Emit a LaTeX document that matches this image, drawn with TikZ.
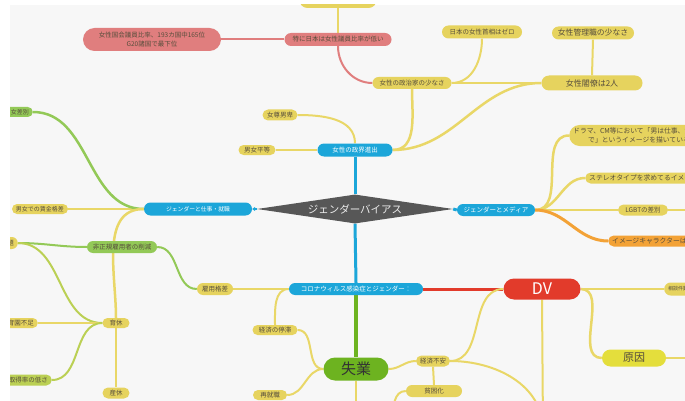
\documentclass[tikz,border=0pt]{standalone}
\usepackage{fontspec}
\setmainfont{Noto Sans CJK JP}
\usetikzlibrary{shapes.geometric, arrows.meta}

\definecolor{canvasbg}{HTML}{F7F7F7}
\definecolor{mustard}{HTML}{E6D35E}
\definecolor{mustardline}{HTML}{E9D767}
\definecolor{salmon}{HTML}{E07E7E}
\definecolor{skyblue}{HTML}{1CA6D9}
\definecolor{leafgreen}{HTML}{93C957}
\definecolor{lime}{HTML}{BBD054}
\definecolor{jobgreen}{HTML}{6DB320}
\definecolor{dvred}{HTML}{E23B2B}
\definecolor{lemon}{HTML}{E4DE3C}
\definecolor{tangerine}{HTML}{F3A236}
\definecolor{slate}{HTML}{575757}
\definecolor{inktext}{HTML}{574E3C}

\pgfdeclarelayer{edges}
\pgfsetlayers{edges,main}

\begin{document}
\begin{tikzpicture}[
    x=1pt, y=-1pt,
    pill/.style={rectangle, rounded corners=5.5pt, inner xsep=4pt, inner ysep=0pt, minimum height=11pt, font=\fontsize{6.5}{8}\selectfont, text=inktext},
    yellownode/.style={pill, fill=mustard},
    rednode/.style={pill, fill=salmon},
    bluenode/.style={pill, fill=skyblue, text=white},
    greennode/.style={pill, fill=leafgreen},
    yline/.style={draw=mustardline, line width=2pt},
    rline/.style={draw=salmon, line width=2pt},
    gline/.style={draw=leafgreen, line width=2.5pt},
    bline/.style={draw=skyblue, line width=3pt}
]

\useasboundingbox (0,0) rectangle (685,401);

\begin{scope}
\clip (10,5) rectangle (685,401);

% ===== Center =====
\node[diamond, aspect=6.7, fill=slate, text=gray!15, inner sep=0pt, minimum width=196pt, minimum height=29pt, font=\fontsize{10.5}{12}\selectfont] (bias) at (355,209) {ジェンダーバイアス};

% ===== Top: politics =====
\node[yellownode, minimum width=77pt, minimum height=16pt, rounded corners=8pt] (topcut) at (338,0) {};
\node[rednode, minimum width=107pt, minimum height=13pt, rounded corners=6.5pt] (lowratio) at (338,39.5) {特に日本は女性議員比率が低い};
\node[rednode, align=center, minimum width=138pt, minimum height=23pt, rounded corners=11.5pt, font=\fontsize{6.5}{9}\selectfont] (diet) at (152,39.5) {女性国会議員比率、193カ国中165位\\G20諸国で最下位};
\node[yellownode, minimum width=79pt, minimum height=12pt, rounded corners=6pt] (politician) at (412,83) {女性の政治家の少なさ};
\node[yellownode, minimum width=80pt, minimum height=13pt, rounded corners=6.5pt] (primemin) at (482,32) {日本の女性首相はゼロ};
\node[yellownode, minimum width=82pt, minimum height=13pt, rounded corners=6.5pt, font=\fontsize{7.8}{9}\selectfont] (manager) at (593,33) {女性管理職の少なさ};
\node[yellownode, minimum width=101pt, minimum height=15pt, rounded corners=7.5pt, font=\fontsize{8}{9}\selectfont] (cabinet) at (592,83) {女性閣僚は2人};
\node[bluenode, minimum width=75pt, minimum height=13pt, rounded corners=6.5pt] (politics) at (355,150) {女性の政界進出};
\node[yellownode, minimum width=35pt] (sonpi) at (280,115) {女尊男卑};
\node[yellownode, minimum width=37pt, minimum height=10pt, rounded corners=5pt] (equal) at (257,150) {男女平等};

% ===== Left: work =====
\node[bluenode, minimum width=108pt, minimum height=13pt, rounded corners=6.5pt, font=\fontsize{5.8}{7}\selectfont] (work) at (198,209) {ジェンダーと仕事・就職};
\node[yellownode, minimum width=56pt, minimum height=10pt, rounded corners=5pt, font=\fontsize{6}{7}\selectfont] (wage) at (40,209) {男女での賃金格差};
\node[greennode, anchor=east, minimum height=10pt, rounded corners=5pt, font=\fontsize{6}{7}\selectfont] (discrim) at (33,112) {男女差別};
\node[greennode, minimum width=70pt, minimum height=12pt, rounded corners=6pt] (irregular) at (122,247) {非正規雇用者の削減};
\node[yellownode, anchor=east, minimum height=12pt, rounded corners=6pt] (jobissue) at (18,243) {雇用問題};
\node[yellownode, minimum width=27pt, minimum height=10pt, rounded corners=5pt] (childleave) at (116,323) {育休};
\node[yellownode, minimum width=27pt, minimum height=11pt] (birthleave) at (116,393) {産休};
\node[yellownode, anchor=east, minimum height=10pt, rounded corners=5pt] (nursery) at (38,323) {保育園不足};
\node[yellownode, anchor=east, minimum height=11pt, fill=lime] (uptake) at (52,380) {育休の取得率の低さ};
\node[yellownode, minimum width=36pt, minimum height=12pt, rounded corners=6pt] (gap) at (215,289) {雇用格差};

% ===== Right: media =====
\node[bluenode, minimum width=78pt, minimum height=12pt, rounded corners=6pt] (media) at (496,210) {ジェンダーとメディア};
\node[yellownode, anchor=west, align=center, minimum height=21pt, rounded corners=10.5pt, font=\fontsize{6.8}{8.5}\selectfont] (drama) at (569,135.5) {ドラマ、CM等において「男は仕事、女は家\\で」というイメージを描いている};
\node[yellownode, anchor=west, minimum height=11pt, font=\fontsize{6.8}{8}\selectfont] (stereo) at (585,178) {ステレオタイプを求めてるイメージ};
\node[yellownode, minimum width=50pt] (lgbt) at (643,210) {LGBTの差別};
\node[pill, fill=tangerine, anchor=west, font=\fontsize{6.8}{8}\selectfont] (mascot) at (608,241) {イメージキャラクターは女性};
\coordinate (lgbt_next) at (700,210);

% ===== Bottom: corona =====
\node[bluenode, minimum width=134pt, minimum height=12pt, rounded corners=6pt] (corona) at (356,289) {コロナウィルス感染症とジェンダー：};
\node[pill, fill=dvred, text=white, minimum width=77pt, minimum height=21pt, rounded corners=10.5pt, font=\fontsize{16}{16}\selectfont] (dv) at (542,289) {DV};
\node[yellownode, minimum width=45pt, minimum height=10pt, rounded corners=5pt] (slump) at (275,330) {経済の停滞};
\node[pill, fill=jobgreen, text=black!80, minimum width=65pt, minimum height=23pt, rounded corners=11.5pt, font=\fontsize{15}{15}\selectfont] (jobloss) at (356,369) {失業};
\node[yellownode, minimum width=34pt, minimum height=10pt, rounded corners=5pt] (rehire) at (270,395) {再就職};
\node[yellownode, minimum width=33pt] (anxiety) at (433,361) {経済不安};
\node[yellownode, minimum width=56pt, minimum height=12pt, rounded corners=6pt] (poverty) at (434,391) {貧困化};
\node[yellownode, anchor=west, minimum height=13pt, rounded corners=6.5pt, font=\fontsize{5}{6}\selectfont] (consult) at (664,289) {相談件数};
\node[pill, fill=lemon, minimum width=64pt, minimum height=17pt, rounded corners=8.5pt, font=\fontsize{11}{12}\selectfont] (cause) at (634,358) {原因};
\coordinate (job_next) at (356,420);
\coordinate (dv_next) at (543,430);
\coordinate (poverty_prev) at (393,420);
\coordinate (cause_next) at (700,358);
\end{scope}

% ===== Connectors (behind the nodes) =====
\begin{pgfonlayer}{edges}
\fill[white] (0,0) rectangle (685,401);
\clip (10,5) rectangle (685,401);
\fill[canvasbg] (10,5) rectangle (685,401);

% politics
\draw[yline] (topcut.south) -- (lowratio.north);
\draw[rline] (lowratio.west) -- (diet.east);
\draw[rline] (lowratio.south) to[out=-90, in=180] (politician.west);
\draw[yline] (politician.east) -- (cabinet.west);
\draw[yline] (primemin.south) to[out=-90, in=0] (politician.east);
\draw[yline] (manager.south) -- (cabinet.north);
\draw[yline, line width=2.5pt] (cabinet.west) to[out=180, in=0] (politics.east);
\draw[yline, line width=2.5pt] (politician.south) to[out=-90, in=0] (politics.east);
\draw[yline] (sonpi.east) to[out=0, in=90] (politics.north);
\draw[yline] (equal.east) -- (politics.west);
\draw[bline] (politics.south) -- (bias.north);

% work
\draw[bline, line width=1.5pt, -{Triangle[length=3pt, width=4pt]}] (bias.west) -- (work.east);
\draw[yline] (wage.east) -- (work.west);
\draw[gline] (discrim.east) to[out=0, in=180] (work.west);
\draw[yline, line width=2.5pt] (work.west) to[out=180, in=90] (childleave.north);
\draw[yline] (childleave.south) -- (birthleave.north);
\draw[gline, line width=2pt] (jobissue.east) to[out=0, in=180] (irregular.west);
\draw[draw=lime, line width=2pt] (jobissue.east) to[out=0, in=180] (childleave.west);
\draw[yline] (nursery.east) -- (childleave.west);
\draw[draw=lime, line width=2pt] (uptake.east) to[out=0, in=180] (childleave.west);
\draw[gline, line width=2pt] (irregular.east) to[out=0, in=180] (gap.west);

% media
\draw[bline] (bias.east) -- (media.west);
\draw[yline, line width=2.5pt] (media.east) to[out=0, in=180] (drama.west);
\draw[yline, line width=2.5pt] (media.east) to[out=0, in=180] (stereo.west);
\draw[yline] (media.east) -- (lgbt.west);
\draw[yline] (lgbt.east) -- (lgbt_next);
\draw[draw=tangerine, line width=3pt] (media.east) to[out=0, in=180] (mascot.west);

% corona
\draw[bline] (bias.south) -- (corona.north);
\draw[yline] (gap.east) -- (corona.west);
\draw[yline] (slump.north) to[out=90, in=180] (corona.west);
\draw[draw=dvred, line width=3pt] (corona.east) -- (dv.west);
\draw[draw=jobgreen, line width=3.5pt] (corona.south) -- (jobloss.north);
\draw[yline] (slump.east) to[out=0, in=180] (jobloss.west);
\draw[yline] (rehire.east) to[out=0, in=180] (jobloss.west);
\draw[yline] (jobloss.east) to[out=0, in=180] (anxiety.west);
\draw[yline] (jobloss.south) -- (job_next);
\draw[yline] (anxiety.south) -- (poverty.north);
\draw[yline] (poverty_prev) to[out=90, in=180] (poverty.west);
\draw[yline] (anxiety.east) to[out=0, in=180] (dv.west);
\draw[yline] (anxiety.east) to[out=0, in=90] (dv_next);
\draw[yline] (dv.south) -- (dv_next);
\draw[yline] (dv.east) -- (consult.west);
\draw[yline, line width=2.5pt] (dv.east) to[out=0, in=180] (cause.west);
\draw[yline] (cause.east) -- (cause_next);
\end{pgfonlayer}

\end{tikzpicture}
\end{document}
